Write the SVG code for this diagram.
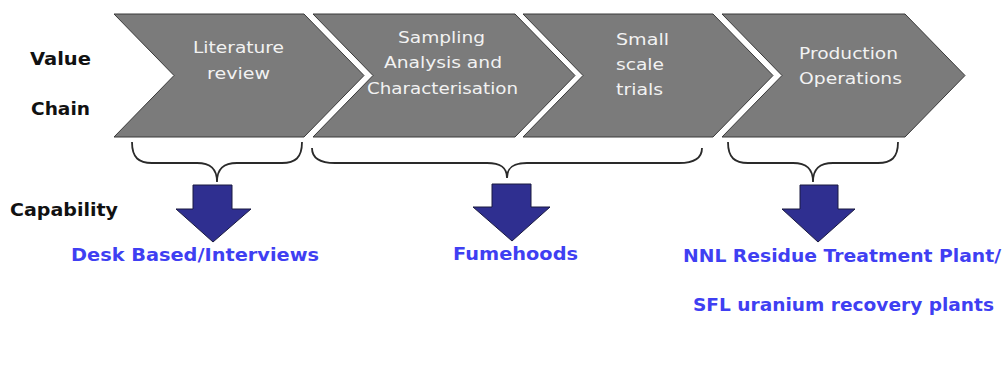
<svg xmlns="http://www.w3.org/2000/svg" width="1005" height="375" viewBox="0 0 1005 375">
<defs>
<style>
.chev{fill:#7b7b7b;stroke:#3a3a3a;stroke-width:1}
.ct{font-family:"DejaVu Sans",Verdana,sans-serif;font-size:16px;fill:#f2f2f2}
.lbl{font-family:"DejaVu Sans",Verdana,sans-serif;font-size:18px;font-weight:bold;fill:#111}
.cap{font-family:"DejaVu Sans",Verdana,sans-serif;font-size:18px;font-weight:bold;fill:#3f3ff2}
.brace{fill:none;stroke:#2a2a2a;stroke-width:1.8}
.arr{fill:#2f2f90;stroke:#1a1a40;stroke-width:1}
</style>
</defs>
<rect width="1005" height="375" fill="#fff"/>
<text class="lbl" x="30" y="65" textLength="61" lengthAdjust="spacingAndGlyphs">Value</text>
<text class="lbl" x="31" y="115" textLength="59" lengthAdjust="spacingAndGlyphs">Chain</text>
<text class="lbl" x="10" y="216" textLength="108" lengthAdjust="spacingAndGlyphs">Capability</text>
<g id="step1">
<polygon class="chev" points="114,14 304,14 364,75.5 304,137 114,137 174,75.5"/>
<text class="ct" x="193" y="53" textLength="91" lengthAdjust="spacingAndGlyphs">Literature</text>
<text class="ct" x="207" y="79" textLength="63" lengthAdjust="spacingAndGlyphs">review</text>
</g>
<g id="step2">
<polygon class="chev" points="313,14 515,14 575,75.5 515,137 313,137 373,75.5"/>
<text class="ct" x="398" y="43" textLength="87" lengthAdjust="spacingAndGlyphs">Sampling</text>
<text class="ct" x="384" y="68" textLength="118" lengthAdjust="spacingAndGlyphs">Analysis and</text>
<text class="ct" x="367" y="94" textLength="151" lengthAdjust="spacingAndGlyphs">Characterisation</text>
</g>
<g id="step3">
<polygon class="chev" points="523,14 713,14 773,75.5 713,137 523,137 583,75.5"/>
<text class="ct" x="616" y="45" textLength="53" lengthAdjust="spacingAndGlyphs">Small</text>
<text class="ct" x="616" y="70" textLength="48" lengthAdjust="spacingAndGlyphs">scale</text>
<text class="ct" x="616" y="95" textLength="47" lengthAdjust="spacingAndGlyphs">trials</text>
</g>
<g id="step4">
<polygon class="chev" points="722,14 905,14 965,75.5 905,137 722,137 782,75.5"/>
<text class="ct" x="799" y="59" textLength="99" lengthAdjust="spacingAndGlyphs">Production</text>
<text class="ct" x="799" y="84" textLength="103" lengthAdjust="spacingAndGlyphs">Operations</text>
</g>
<g id="connectors">
<path class="brace" d="M132,142 C132,158 139,163 152,163 L197,163 C210,163 217,168 217,182 C217,168 224,163 237,163 L282,163 C295,163 302,158 302,142"/>
<path class="brace" d="M312,148 C312,158 320,163 335,163 L487,163 C500,163 507,167 507,178 C507,167 514,163 527,163 L679,163 C694,163 702,158 702,148"/>
<path class="brace" d="M728,142 C728,158 735,163 748,163 L793,163 C806,163 813,168 813,182 C813,168 820,163 833,163 L878,163 C891,163 898,158 898,142"/>
</g>
<g id="arrow1"><polygon class="arr" points="193,185 232,185 232,209 251,209 213,242 176,209 193,209"/></g>
<g id="arrow2"><polygon class="arr" points="492,184 531,184 531,207 550,207 512,241 473,207 492,207"/></g>
<g id="arrow3"><polygon class="arr" points="800,185 838,185 838,209 855,209 818,242 782,209 800,209"/></g>
<g id="cap1"><text class="cap" x="71" y="261" textLength="248" lengthAdjust="spacingAndGlyphs">Desk Based/Interviews</text></g>
<g id="cap2"><text class="cap" x="453" y="260" textLength="125" lengthAdjust="spacingAndGlyphs">Fumehoods</text></g>
<g id="cap3">
<text class="cap" x="683" y="262" textLength="318" lengthAdjust="spacingAndGlyphs">NNL Residue Treatment Plant/</text>
<text class="cap" x="693" y="311" textLength="301" lengthAdjust="spacingAndGlyphs">SFL uranium recovery plants</text>
</g>
</svg>
